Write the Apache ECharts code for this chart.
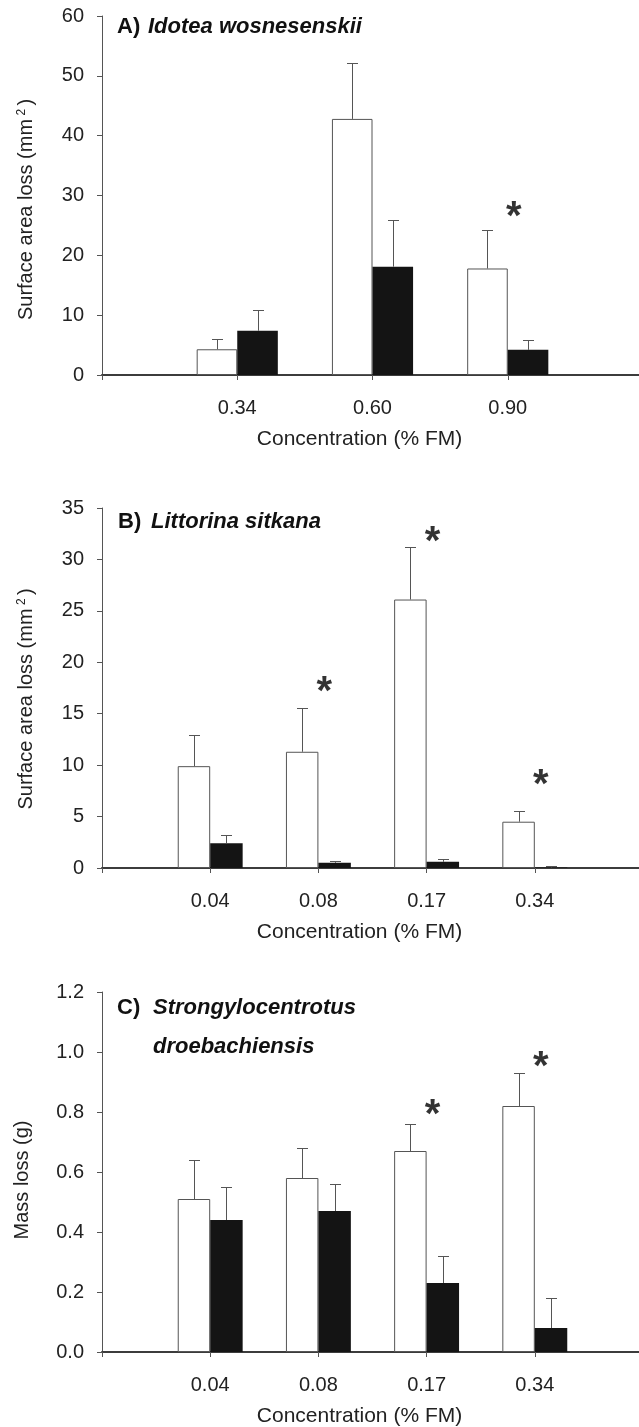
<!DOCTYPE html>
<html>
<head>
<meta charset="utf-8">
<script src="https://cdn.jsdelivr.net/npm/echarts@6/dist/echarts.min.js"></script>
<style>
html, body { margin: 0; padding: 0; background: #fff; }
#main { width: 639px; height: 1427px; }
</style>
</head>
<body>
<div id="main"></div>
<script>
// A) Idotea wosnesenskii
var catsA = ['0.34', '0.60', '0.90'];
var ctrlA = [4.3, 42.8, 17.8];
var ctrlSeA = [1.7, 9.3, 6.5];
var trtA = [7.4, 18.1, 4.2];
var trtSeA = [3.5, 7.8, 1.7];
var starA = [null, null, 27.9];
var ticksA = [0, 10, 20, 30, 40, 50, 60];

// B) Littorina sitkana
var catsB = ['0.04', '0.08', '0.17', '0.34'];
var ctrlB = [9.9, 11.3, 26.1, 4.5];
var ctrlSeB = [3.0, 4.3, 5.1, 1.0];
var trtB = [2.4, 0.5, 0.6, 0.05];
var trtSeB = [0.8, 0.2, 0.3, 0.1];
var starB = [null, 18.0, 32.6, 8.9];
var ticksB = [0, 5, 10, 15, 20, 25, 30, 35];

// C) Strongylocentrotus droebachiensis
var catsC = ['0.04', '0.08', '0.17', '0.34'];
var ctrlC = [0.51, 0.58, 0.67, 0.82];
var ctrlSeC = [0.13, 0.10, 0.09, 0.11];
var trtC = [0.44, 0.47, 0.23, 0.08];
var trtSeC = [0.11, 0.09, 0.09, 0.10];
var starC = [null, null, 0.82, 0.98];
var ticksC = [0, 0.2, 0.4, 0.6, 0.8, 1.0, 1.2];

var FONT = '"Liberation Sans", Arial, sans-serif';

// empty category at each end so groups sit on the ticks
function padCats(c) { return [''].concat(c, ['']); }
function padVals(v) { return ['-'].concat(v, ['-']); }

function errData(vals, se) {
  return vals.map(function (v, i) { return [i + 1, v, se[i]]; });
}
function starData(s) {
  var out = [];
  s.forEach(function (v, i) { if (v != null) out.push([i + 1, v]); });
  return out;
}

function errSeries(g, vals, se, side) {
  return {
    type: 'custom', xAxisIndex: g, yAxisIndex: g, z: 5,
    data: errData(vals, se),
    renderItem: function (params, api) {
      var x = api.value(0);
      var base = api.coord([x, api.value(1)]);
      var top = api.coord([x, api.value(1) + api.value(2)]);
      var band = api.size([1, 0])[0];
      var cx = Math.round(base[0] + side * band * 0.15) + 0.5;
      var ty = Math.round(top[1]) + 0.5;
      var st = { stroke: '#555', lineWidth: 1 };
      return {
        type: 'group',
        children: [
          { type: 'line', shape: { x1: cx, y1: base[1], x2: cx, y2: ty }, style: st },
          { type: 'line', shape: { x1: cx - 5.5, y1: ty, x2: cx + 5.5, y2: ty }, style: st }
        ]
      };
    }
  };
}

function barSeries(g, vals, white) {
  return {
    type: 'bar', xAxisIndex: g, yAxisIndex: g,
    data: padVals(vals),
    barWidth: '30%', barGap: '0%',
    itemStyle: white ? { color: '#fff', borderColor: '#555', borderWidth: 1 } : { color: '#141414' },
    silent: true
  };
}

function starSeries(g, s) {
  return {
    type: 'scatter', xAxisIndex: g, yAxisIndex: g, z: 6,
    data: starData(s), symbolSize: 0,
    label: {
      show: true, position: 'inside', formatter: '*',
      fontSize: 40, fontWeight: 'bold', fontFamily: FONT, color: '#000',
      offset: [6, 10]
    }
  };
}

var grids = [
  { left: 102, top: 16, width: 541, height: 359, outerBoundsMode: 'none', containLabel: false },
  { left: 102, top: 508, width: 541, height: 360, outerBoundsMode: 'none', containLabel: false },
  { left: 102, top: 992, width: 541, height: 360, outerBoundsMode: 'none', containLabel: false }
];

function xAx(g, cats) {
  return {
    gridIndex: g, type: 'category', data: padCats(cats), boundaryGap: false,
    axisLine: { lineStyle: { color: '#3c3c3c', width: 2 } },
    axisTick: { show: true, interval: 0, length: 5, lineStyle: { color: '#555', width: 1 } },
    axisLabel: { interval: 0, margin: 23, fontSize: 20, color: '#222', fontFamily: FONT },
    name: 'Concentration (% FM)', nameLocation: 'middle', nameGap: 54,
    nameTextStyle: { fontSize: 21, color: '#222', fontFamily: FONT, padding: [0, 26, 0, 0] },
    splitLine: { show: false }
  };
}

// shift: moves the rotated name down the axis by shift/2 px
function yAx(g, ticks, name, fmt, gap, shift) {
  return {
    gridIndex: g, type: 'value', min: ticks[0], max: ticks[ticks.length - 1],
    interval: ticks[1] - ticks[0],
    axisLine: { show: true, lineStyle: { color: '#555', width: 1 } },
    axisTick: { show: true, length: 5, lineStyle: { color: '#555' } },
    axisLabel: { margin: 18, fontSize: 20, color: '#222', fontFamily: FONT, formatter: fmt },
    splitLine: { show: false },
    name: name, nameLocation: 'middle', nameGap: gap, nameRotate: 90,
    nameTextStyle: {
      fontSize: 20, color: '#222', fontFamily: FONT, padding: [0, shift, 0, 0],
      rich: { sup: { fontSize: 12, verticalAlign: 'top', fontFamily: FONT, color: '#222' } }
    }
  };
}

function titleText(x, y, txt, italic) {
  return {
    type: 'text', silent: true,
    style: {
      x: x, y: y, text: txt, fill: '#111', fontFamily: FONT, fontSize: 22,
      fontWeight: 'bold', fontStyle: italic ? 'italic' : 'normal', verticalAlign: 'middle'
    }
  };
}

var chart = echarts.init(document.getElementById('main'));
chart.setOption({
  animation: false,
  backgroundColor: '#fff',
  grid: grids,
  xAxis: [xAx(0, catsA), xAx(1, catsB), xAx(2, catsC)],
  yAxis: [
    yAx(0, ticksA, 'Surface area loss (mm{sup| 2 })', null, 66, 28),
    yAx(1, ticksB, 'Surface area loss (mm{sup| 2 })', null, 66, 22),
    yAx(2, ticksC, 'Mass loss (g)', function (v) { return v.toFixed(1); }, 70, 16)
  ],
  graphic: [
    titleText(117, 27, 'A)', false),
    titleText(148, 27, 'Idotea wosnesenskii', true),
    titleText(118, 522, 'B)', false),
    titleText(151, 522, 'Littorina sitkana', true),
    titleText(117, 1008, 'C)', false),
    titleText(153, 1008, 'Strongylocentrotus', true),
    titleText(153, 1047, 'droebachiensis', true)
  ],
  series: [
    barSeries(0, ctrlA, true), barSeries(0, trtA, false),
    errSeries(0, ctrlA, ctrlSeA, -1), errSeries(0, trtA, trtSeA, 1),
    starSeries(0, starA),
    barSeries(1, ctrlB, true), barSeries(1, trtB, false),
    errSeries(1, ctrlB, ctrlSeB, -1), errSeries(1, trtB, trtSeB, 1),
    starSeries(1, starB),
    barSeries(2, ctrlC, true), barSeries(2, trtC, false),
    errSeries(2, ctrlC, ctrlSeC, -1), errSeries(2, trtC, trtSeC, 1),
    starSeries(2, starC)
  ]
});
</script>
</body>
</html>
